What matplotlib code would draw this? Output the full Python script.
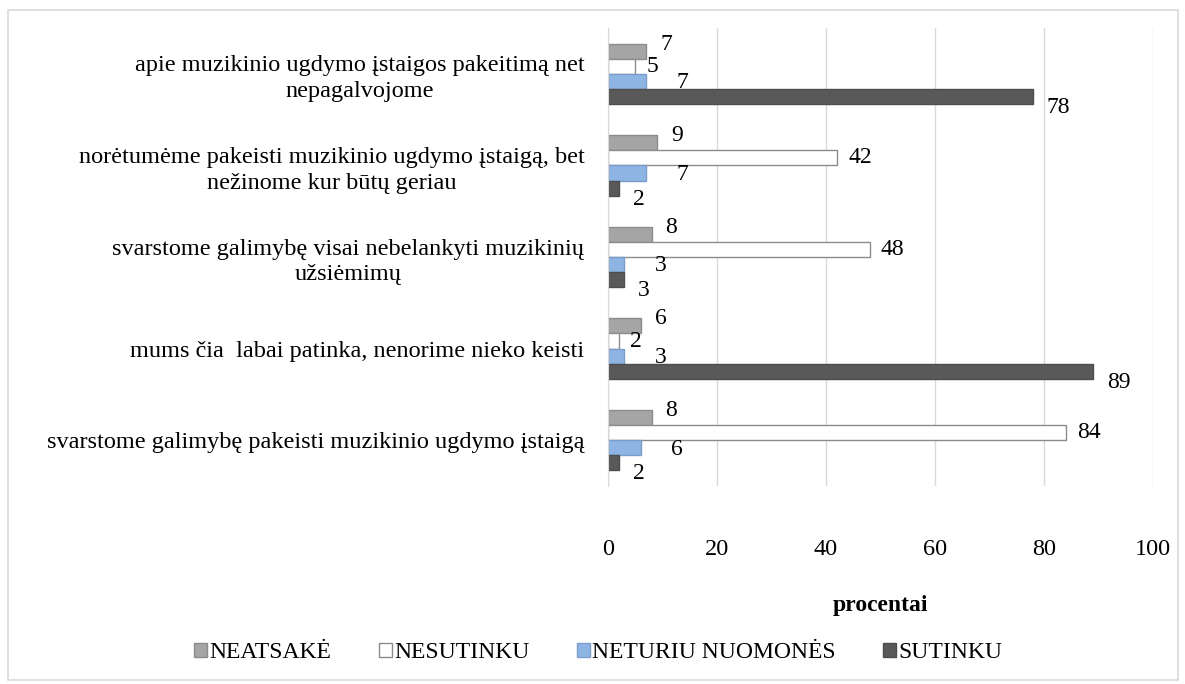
import numpy as np
import matplotlib.pyplot as plt
from matplotlib.patches import Rectangle

plt.rcParams['font.family'] = ['Liberation Serif', 'DejaVu Serif']

categories = [
    "apie muzikinio ugdymo įstaigos pakeitimą net\nnepagalvojome",
    "norėtumėme pakeisti muzikinio ugdymo įstaigą, bet\nnežinome kur būtų geriau",
    "svarstome galimybę visai nebelankyti muzikinių\nužsiėmimų",
    "mums čia  labai patinka, nenorime nieko keisti",
    "svarstome galimybę pakeisti muzikinio ugdymo įstaigą",
]
series = ["NEATSAKĖ", "NESUTINKU", "NETURIU NUOMONĖS", "SUTINKU"]
neatsake = [7, 9, 8, 6, 8]
nesutinku = [5, 42, 48, 2, 84]
neturiu = [7, 7, 3, 3, 6]
sutinku = [78, 2, 3, 89, 2]
xticks = [0, 20, 40, 60, 80, 100]

values = [neatsake, nesutinku, neturiu, sutinku]
faces = ["#A5A5A5", "#FFFFFF", "#8EB4E3", "#595959"]
edges = ["#8C8C8C", "#8C8C8C", "#7A9CC8", "#4D4D4D"]
label_dx = [10, 8, 22, 10]
label_dy = [5, 0, -1, -8]

fig = plt.figure(figsize=(11.85, 6.84), dpi=100)
fig.patches.append(Rectangle((8 / 1185, 4 / 684), 1170 / 1185, 670 / 684,
                             transform=fig.transFigure, fill=False,
                             edgecolor="#D9D9D9", linewidth=1.2))
ax = fig.add_axes([608 / 1185, 1 - 486 / 684, 545 / 1185, 458 / 684])

n = len(categories)
y = np.arange(n)
h = 0.165
for k, (vals, fc, ec, name) in enumerate(zip(values, faces, edges, series)):
    pos = y - 1.5 * h + k * h
    bars = ax.barh(pos, vals, height=h, color=fc, edgecolor=ec, linewidth=1, label=name)
    for b, v in zip(bars, vals):
        ax.annotate(str(v), (b.get_width(), b.get_y() + b.get_height() / 2),
                    xytext=(label_dx[k], label_dy[k]), textcoords="offset points",
                    ha="left", va="center", fontsize=17)

ax.set_ylim(n - 0.5, -0.5)
ax.set_xlim(0, 100)
ax.set_xticks(xticks)
ax.set_yticks(y)
ax.set_yticklabels(categories, fontsize=17.5, linespacing=1.3)
for lab in ax.get_yticklabels():
    lab.set_multialignment("center")
ax.tick_params(axis="y", length=0, pad=17)
ax.tick_params(axis="x", length=0, pad=38, labelsize=17.5)
ax.grid(axis="x", color="#D9D9D9", linewidth=1)
ax.set_axisbelow(True)
for s in ["top", "right", "bottom"]:
    ax.spines[s].set_visible(False)
ax.spines["left"].set_color("#D9D9D9")
ax.set_xlabel("procentai", fontsize=17, fontweight="bold", labelpad=25)

fig.legend(loc="center", bbox_to_anchor=(0.505, 1 - 653 / 684), ncol=4,
           frameon=False, fontsize=17, handlelength=0.55, handleheight=0.55,
           handletextpad=0.1, columnspacing=2.0)

fig.savefig("out.png", dpi=100)
